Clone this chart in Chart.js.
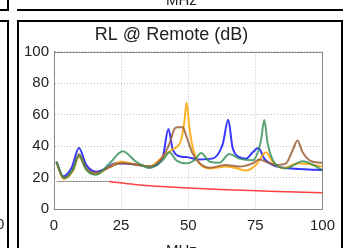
<!DOCTYPE html>
<html>
<head>
<meta charset="utf-8">
<script src="https://cdn.jsdelivr.net/npm/chart.js@4/dist/chart.umd.min.js"></script>
<style>
  html, body { margin: 0; padding: 0; background: #fff; overflow: hidden; }
  body { width: 343px; height: 248px; position: relative; font-family: "Liberation Sans", Arial, sans-serif; }
  .line { position: absolute; background: #000; }
  .txt { position: absolute; font-size: 15px; color: #222; line-height: 15px; }
  #wrap { position: absolute; left: 0; top: 0; width: 343px; height: 248px; }
</style>
</head>
<body>
<div id="wrap"><canvas id="rlChart" width="343" height="248"></canvas></div>

<!-- neighbouring panels, cut off by the crop -->
<div class="line" style="left:17px; top:9px; width:326px; height:2px;"></div>
<div class="line" style="left:7px; top:0; width:2px; height:11px;"></div>
<div class="line" style="left:0; top:9px; width:9px; height:2px;"></div>
<div class="line" style="left:0; top:20px; width:9px; height:2px;"></div>
<div class="line" style="left:7px; top:20px; width:2px; height:228px;"></div>
<div class="txt" style="left:-4px; top:216px;">0</div>
<div class="txt" style="left:166px; top:-8px;">MHz</div>

<!-- this panel's frame -->
<div class="line" style="left:17px; top:20px; width:326px; height:2px;"></div>
<div class="line" style="left:17px; top:20px; width:2px; height:228px;"></div>
<div class="line" style="left:341px; top:20px; width:2px; height:228px;"></div>
<div class="txt" style="left:166px; top:242px;">MHz</div>

<script>
document.addEventListener("DOMContentLoaded", () => {
    // axis ticks
    const xTicks = [0, 25, 50, 75, 100];
    const yTicks = [0, 20, 40, 60, 80, 100];

    // limit line (dB)
    const limitFlatMHz = [1, 20.5];
    const limitFlatDb = [17.5, 17.5];
    const limitMHz = [20.5, 30, 40, 50, 60, 70, 80, 90, 100];
    const limitDb = [17.4, 15.6, 14.3, 13.3, 12.5, 11.9, 11.3, 10.8, 10.3];

    // measured pairs
    const blueMHz = [0.9, 3.3, 6.5, 9.3, 12, 15.7, 19, 23, 29.4, 35.6, 40.5, 42.6, 44.2, 46.7, 49.2, 54.2, 59, 62.8, 64.9, 66.5, 69, 71.5, 74, 76.1, 78.3, 81.4, 86.4, 93, 100];
    const blueDb = [30, 20.6, 26, 38.7, 28, 23.7, 25.5, 29, 28.5, 27, 33, 50.8, 38, 33.5, 33, 31.5, 32, 41, 56.7, 39, 33, 32, 36, 38.7, 32, 28, 26, 25.3, 24.8];

    const greenMHz = [0.9, 3.9, 7, 9.3, 12, 15.7, 20.7, 25.6, 30.6, 35.6, 40.5, 43, 45.5, 49.2, 52.3, 54.8, 58, 61.6, 65.3, 69, 74, 77.1, 78.3, 79.6, 82.7, 86.4, 92.6, 100];
    const greenDb = [30, 19.6, 25, 34, 25, 21.7, 29, 36.7, 30, 26, 31, 36, 31, 29, 31, 35.6, 30, 29.4, 35, 32, 31, 43.5, 56.5, 41.5, 28, 25.8, 30.4, 24.8];

    const orangeMHz = [0.9, 3.5, 7, 9.3, 12, 15.7, 20, 25, 30, 35.6, 41, 44.2, 47.3, 48.6, 49.4, 50.4, 51.7, 54.2, 58, 64, 67.8, 71.5, 75.2, 79, 81.4, 85.1, 91.3, 100];
    const orangeDb = [30, 19, 24, 33, 25, 22, 26, 30, 28.5, 27, 34, 38, 43.5, 56, 67.5, 52, 39, 29, 25.8, 27, 26, 24.4, 28, 36, 30, 26, 29, 27];

    const brownMHz = [0.9, 3.5, 7, 9.3, 12, 15.7, 20, 25, 30, 35.6, 40.5, 43, 44.9, 46, 48, 49.2, 51.7, 54.2, 58, 64, 69, 74, 76.5, 79, 82.7, 86.4, 88.8, 90.7, 92.6, 96.3, 100];
    const brownDb = [30, 20, 25, 35, 26, 23, 26, 29, 28.5, 27, 33, 41.5, 51, 52, 52, 46.7, 35, 29, 26.2, 28, 27, 29, 31.5, 30, 28, 29, 37, 43.5, 36, 30, 29.4];

    const pairs = (xs, ys) => xs.map((x, i) => ({ x: x, y: ys[i] }));

    const series = (label, xs, ys, color, width) => ({
        label: label,
        data: pairs(xs, ys),
        borderColor: color,
        borderWidth: width,
        pointRadius: 0,
        fill: false,
        cubicInterpolationMode: 'monotone'
    });

    const ctx = document.getElementById('rlChart');
    new Chart(ctx, {
        type: 'line',
        data: {
            datasets: [
                series('Limit low', limitFlatMHz, limitFlatDb, 'rgba(120,120,120,0.8)', 1),
                series('Limit', limitMHz, limitDb, 'rgba(255,30,30,0.85)', 1.5),
                series('Pair 1', greenMHz, greenDb, 'rgba(50,140,85,0.8)', 2),
                series('Pair 2', brownMHz, brownDb, 'rgba(155,95,55,0.85)', 2),
                series('Pair 3', orangeMHz, orangeDb, 'rgba(255,165,0,0.85)', 2),
                series('Pair 4', blueMHz, blueDb, 'rgba(20,20,255,0.85)', 2)
            ]
        },
        options: {
            responsive: false,
            animation: false,
            devicePixelRatio: 1,
            layout: { padding: { left: 20, right: 20, top: 23, bottom: 0 } },
            plugins: {
                legend: { display: false },
                tooltip: { enabled: false },
                title: {
                    display: true,
                    text: 'RL @ Remote (dB)',
                    color: '#222',
                    font: { family: 'Liberation Sans', size: 18, weight: 'normal' },
                    padding: { top: 1, bottom: 6 }
                }
            },
            scales: {
                x: {
                    type: 'linear',
                    min: 0,
                    max: 100,
                    afterBuildTicks: axis => { axis.ticks = xTicks.map(v => ({ value: v })); },
                    afterFit: axis => { axis.height = 39; },
                    ticks: {
                        color: '#222',
                        padding: 8,
                        maxRotation: 0,
                        font: { family: 'Liberation Sans', size: 15 }
                    },
                    grid: {
                        color: 'rgba(185,185,185,0.9)',
                        drawTicks: false,
                        lineWidth: 1
                    },
                    border: { display: true, color: '#888', width: 1, dash: [1, 2] }
                },
                y: {
                    min: 0,
                    max: 100,
                    afterBuildTicks: axis => { axis.ticks = yTicks.map(v => ({ value: v })); },
                    afterFit: axis => { axis.width = 34; },
                    ticks: {
                        color: '#222',
                        padding: 5,
                        font: { family: 'Liberation Sans', size: 15 }
                    },
                    grid: {
                        color: 'rgba(185,185,185,0.9)',
                        drawTicks: false,
                        lineWidth: 1
                    },
                    border: { display: true, color: '#888', width: 1, dash: [1, 2] }
                }
            }
        },
        plugins: [{
            // solid grey frame round the plot area
            id: 'frame',
            beforeDatasetsDraw(chart) {
                const a = chart.chartArea;
                const c = chart.ctx;
                c.save();
                c.strokeStyle = '#888';
                c.lineWidth = 1;
                c.strokeRect(Math.round(a.left) + 0.5, Math.round(a.top) + 0.5,
                    Math.round(a.right - a.left), Math.round(a.bottom - a.top));
                c.restore();
            }
        }]
    });
});
</script>
</body>
</html>
